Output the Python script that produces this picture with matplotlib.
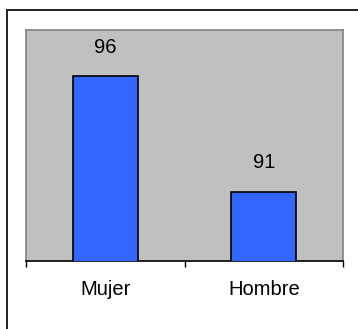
import matplotlib
matplotlib.use("Agg")
import matplotlib.pyplot as plt
from matplotlib.patches import Rectangle

categories = ["Mujer", "Hombre"]
values = [96, 91]

plt.rcParams['font.family'] = ['Liberation Sans', 'DejaVu Sans']

W, H = 358, 329
fig = plt.figure(figsize=(W / 100, H / 100), dpi=100)
fig.patch.set_facecolor("white")

# outer frame
fig.patches.append(Rectangle((6.5 / W, -0.1), 1.2, 1 - 10.5 / H + 0.1,
                             transform=fig.transFigure, fill=False,
                             edgecolor="#222222", linewidth=1.4))

ax = fig.add_axes([26 / W, 1 - 261 / H, (343 - 26) / W, (261 - 30) / H])
ax.set_facecolor("#C0C0C0")
x = list(range(len(categories)))
bars = ax.bar(x, values, width=0.41, color="#3366FF", edgecolor="black",
              linewidth=1.2, zorder=3)
ax.set_xlim(-0.5, len(categories) - 0.5)
ax.set_ylim(88, 98)

for b, v in zip(bars, values):
    ax.annotate(f"{v}", (b.get_x() + b.get_width() / 2, v),
                xytext=(0, 14), textcoords="offset points",
                ha="center", va="bottom", fontsize=14.5, color="black")

ax.set_xticks(x)
ax.set_xticklabels(categories, fontsize=14.5)
ax.tick_params(axis="x", which="major", length=0, pad=14)
ax.set_xticks([i - 0.5 for i in range(len(categories) + 1)], minor=True)
ax.tick_params(axis="x", which="minor", length=4, width=1, color="black",
               direction="out")
ax.set_yticks([])

for s in ["left", "top", "right"]:
    ax.spines[s].set_color("#808080")
    ax.spines[s].set_linewidth(1.2)
ax.spines["bottom"].set_color("black")
ax.spines["bottom"].set_linewidth(1.2)

fig.savefig("out.png", dpi=100)
